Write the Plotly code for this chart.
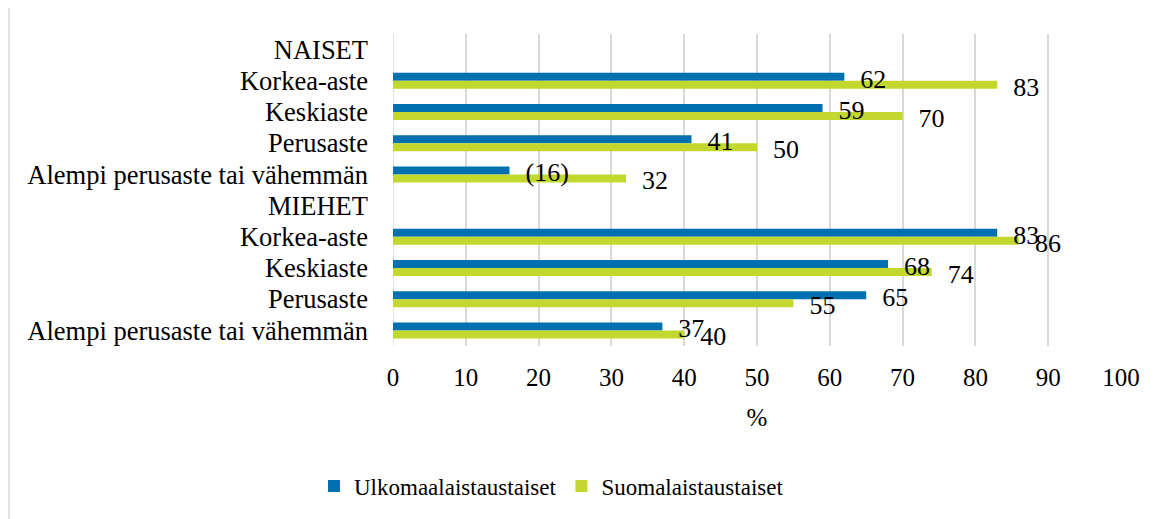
import plotly.graph_objects as go

categories = ["NAISET", "Korkea-aste", "Keskiaste", "Perusaste", "Alempi perusaste tai vähemmän",
              "MIEHET", "Korkea-aste", "Keskiaste", "Perusaste", "Alempi perusaste tai vähemmän"]
ulko_values = [None, 62, 59, 41, 16, None, 83, 68, 65, 37]
ulko_labels = ["", "62", "59", "41", "(16)", "", "83", "68", "65", "37"]
suomi_values = [None, 83, 70, 50, 32, None, 86, 74, 55, 40]
suomi_labels = ["", "83", "70", "50", "32", "", "86", "74", "55", "40"]
series_names = ["Ulkomaalaistaustaiset", "Suomalaistaustaiset"]
x_ticks = list(range(0, 101, 10))

FONT = "Times New Roman, Liberation Serif, serif"
BLUE = "#0070b0"
GREEN = "#c2d82e"
GRID = "#d9d9d9"

pos = list(range(len(categories)))
BW = 0.256          # bar thickness (category units)
TXT_SHIFT = 0.08    # labels sit slightly below bar centre

series = [(series_names[0], ulko_values, ulko_labels, BLUE, -BW),
          (series_names[1], suomi_values, suomi_labels, GREEN, 0.0)]

fig = go.Figure()
# bars
for name, vals, labs, col, off in series:
    fig.add_trace(go.Bar(
        y=pos, x=vals, orientation="h", name=name,
        width=BW, offset=off,
        marker=dict(color=col, line=dict(width=0)),
        hoverinfo="skip",
    ))
# value labels drawn on top of all bars
for name, vals, labs, col, off in series:
    fig.add_trace(go.Bar(
        y=pos, x=vals, orientation="h", name=name + " labels", showlegend=False,
        width=BW, offset=off + TXT_SHIFT,
        marker=dict(color="rgba(0,0,0,0)", line=dict(width=0)),
        text=labs, texttemplate="\u00a0\u00a0%{text}", textposition="outside",
        constraintext="none",
        textfont=dict(family=FONT, size=26, color="black"),
        cliponaxis=False, hoverinfo="skip",
    ))

# the page body adds an 8px offset; compensate
OFF = 8
L, R, T, B = 393 - OFF, 1121 - OFF, 34 - OFF, 346 - OFF
W, H = 1160 - OFF, 519 - OFF
pw, ph = R - L, B - T

def px_x(p):
    return (p - OFF - L) / pw

def px_y(p):
    return (B - (p - OFF)) / ph

fig.add_shape(type="rect", xref="paper", yref="paper",
              x0=px_x(9), x1=px_x(1175), y0=px_y(540), y1=px_y(5),
              line=dict(color=GRID, width=1.5), fillcolor="rgba(0,0,0,0)", layer="below")

fig.update_layout(
    width=W, height=H,
    margin=dict(l=L, r=W - R, t=T, b=H - B),
    paper_bgcolor="white", plot_bgcolor="white",
    barmode="overlay",
    font=dict(family=FONT, size=26, color="black"),
    showlegend=True,
    legend=dict(orientation="h", x=px_x(314), xanchor="left", y=px_y(486), yanchor="middle",
                font=dict(family=FONT, size=23, color="black"), traceorder="normal",
                bgcolor="rgba(0,0,0,0)"),
    xaxis=dict(range=[0, 100], tickvals=x_ticks, ticktext=[str(v) for v in x_ticks],
               showgrid=True, gridcolor=GRID, gridwidth=1.5,
               zeroline=False, showline=False, ticks="", ticklabelstandoff=14,
               tickfont=dict(family=FONT, size=25, color="black"),
               title=dict(text="%", font=dict(family=FONT, size=25, color="black"), standoff=18),
               fixedrange=True),
    yaxis=dict(range=[len(categories) - 0.5, -0.5], tickvals=pos, ticktext=categories,
               showgrid=False, zeroline=False, showline=False, ticks="",
               ticklabelstandoff=24,
               tickfont=dict(family=FONT, size=26.5, color="black"), fixedrange=True),
)
fig.add_shape(type="line", xref="x", yref="paper", x0=0, x1=0, y0=0, y1=1,
              line=dict(color=GRID, width=1.5), layer="below")

fig.write_html("out.html")
